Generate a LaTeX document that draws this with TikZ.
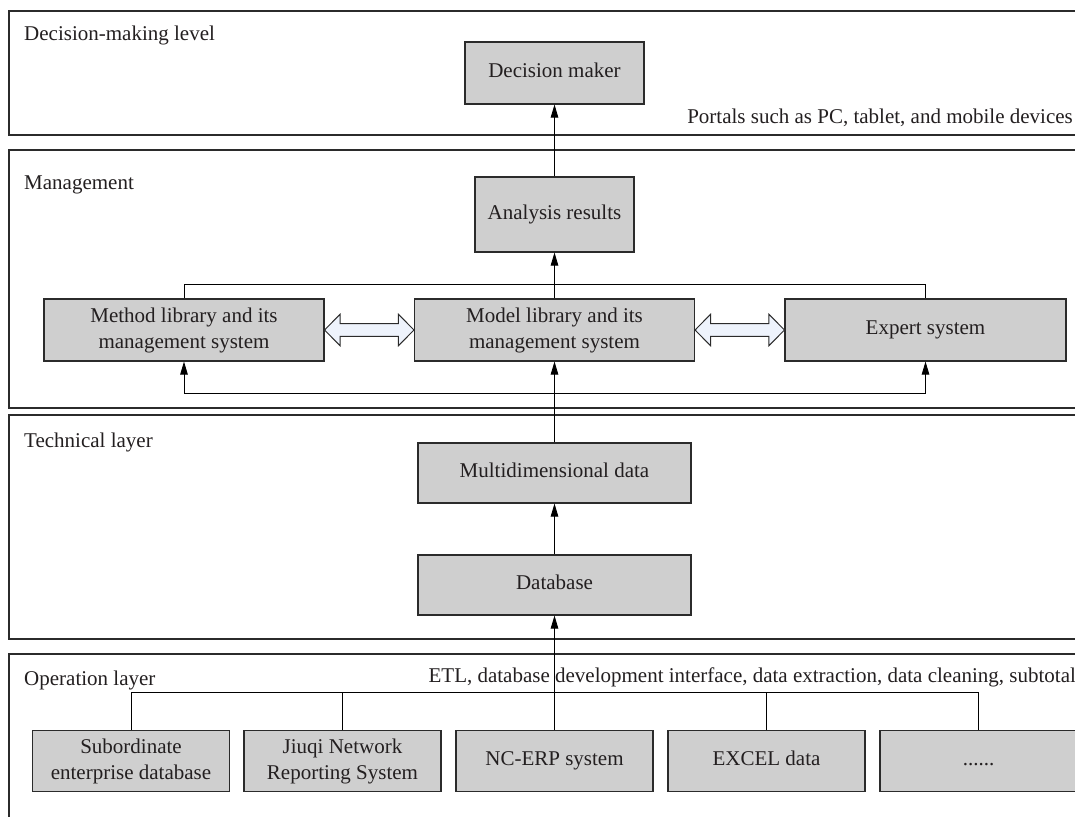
\documentclass[tikz,border=0pt]{standalone}
\usepackage{fontspec}
\setmainfont{Liberation Serif}
\usetikzlibrary{arrows.meta,calc}
\definecolor{boxgray}{HTML}{CFCFCF}
\definecolor{edge}{HTML}{2B2B2B}
\definecolor{txt}{HTML}{231F20}
\definecolor{fatfill}{HTML}{EEF3FC}
\tikzset{
  layer/.style={draw=edge, line width=1.1pt},
  gbox/.style={draw=edge, fill=boxgray, line width=1.1pt, align=center, inner sep=2pt, text=txt},
  oneline/.style={gbox, text height=14pt, text depth=4.5pt},
  lbl/.style={inner sep=0pt, text=txt},
  conn/.style={draw=black, line width=0.9pt},
  arr/.style={conn, -{Triangle[length=13pt,width=7.5pt]}},
  fat/.style={draw=edge, fill=fatfill, line width=1pt, line join=miter},
}
\begin{document}
\begin{tikzpicture}[x=1pt,y=-1pt, font=\fontsize{21}{26}\selectfont]
\useasboundingbox (0,0) rectangle (1075,816);
\clip (0,0) rectangle (1075,816);
\fill[white] (0,0) rectangle (1075,816);
% layers
\draw[layer] (9,11) rectangle (1090,135);
\draw[layer] (9,150) rectangle (1090,408);
\draw[layer] (9,415) rectangle (1090,639);
\draw[layer] (9,654) rectangle (1090,840);
% layer labels
\node[lbl, anchor=base west] (l1) at (24,40.5) {Decision-making level};
\node[lbl, anchor=base west] (l2) at (24,189) {Management};
\node[lbl, anchor=base west] (l3) at (24,447) {Technical layer};
\node[lbl, anchor=base west] (l4) at (24,685) {Operation layer};
\node[lbl, anchor=base east] (portals) at (1073,123) {Portals such as PC, tablet, and mobile devices};
\node[lbl, anchor=base east] (etl) at (1076,682) {ETL, database development interface, data extraction, data cleaning, subtotal};
% boxes
\node[oneline, minimum width=179pt, minimum height=62pt] (dec) at (554.5,73) {Decision maker};
\node[oneline, minimum width=159pt, minimum height=75pt] (ana) at (554.5,214.5) {Analysis results};
\node[gbox, minimum width=280pt, minimum height=62pt] (method) at (184,330) {Method library and its\\management system};
\node[gbox, minimum width=280pt, minimum height=62pt] (model) at (554.5,330) {Model library and its\\management system};
\node[oneline, minimum width=281pt, minimum height=62pt] (expert) at (925.5,330) {Expert system};
\node[oneline, minimum width=273pt, minimum height=60pt] (multi) at (554.5,473) {Multidimensional data};
\node[oneline, minimum width=273pt, minimum height=60pt] (db) at (554.5,585) {Database};
\node[gbox, minimum width=197pt, minimum height=61pt] (b1) at (131,761) {Subordinate\\enterprise database};
\node[gbox, minimum width=197pt, minimum height=61pt] (b2) at (342.5,761) {Jiuqi Network\\Reporting System};
\node[oneline, minimum width=197pt, minimum height=61pt] (b3) at (554.5,761) {NC-ERP system};
\node[oneline, minimum width=197pt, minimum height=61pt] (b4) at (766.5,761) {EXCEL data};
\node[oneline, minimum width=197pt, minimum height=61pt] (b5) at (978.5,761) {......};
% fat double arrows
\draw[fat] (method.east) -- ++(15.5,-15.7) -- ++(0,9.4) -- ($(model.west)+(-15.5,-6.3)$) -- ++(0,-9.4) -- (model.west) -- ++(-15.5,15.7) -- ++(0,-9.4) -- ($(method.east)+(15.5,6.3)$) -- ++(0,9.4) -- cycle;
\draw[fat] (model.east) -- ++(15.5,-15.7) -- ++(0,9.4) -- ($(expert.west)+(-15.5,-6.3)$) -- ++(0,-9.4) -- (expert.west) -- ++(-15.5,15.7) -- ++(0,-9.4) -- ($(model.east)+(15.5,6.3)$) -- ++(0,9.4) -- cycle;
% connectors
\draw[arr] (ana.north) -- (dec.south);
\draw[arr] (model.north) -- (ana.south);
\draw[conn] (method.north) -- (method.north |- 0,284) -| (expert.north);
\coordinate (split) at (554.5,393);
\draw[arr] (split) -| (method.south);
\draw[arr] (split) -| (expert.south);
\draw[arr] (multi.north) -- (model.south);
\draw[arr] (db.north) -- (multi.south);
\draw[arr] (b3.north) -- (db.south);
\coordinate (bus) at (554.5,692);
\draw[conn] (b1.north) -- (b1.north |- bus) -| (b5.north);
\draw[conn] (b2.north) -- (b2.north |- bus);
\draw[conn] (b4.north) -- (b4.north |- bus);
\end{tikzpicture}
\end{document}
